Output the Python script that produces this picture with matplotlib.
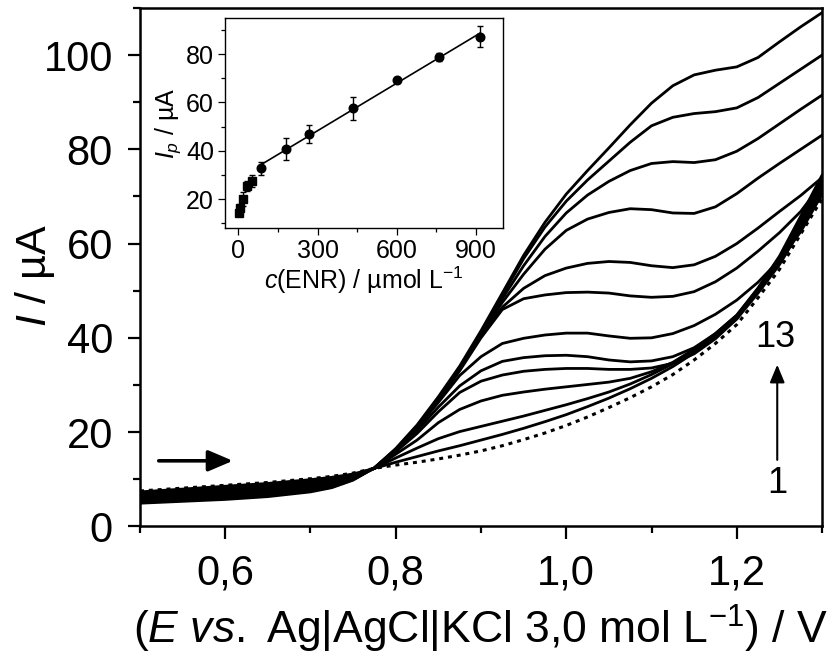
import matplotlib
matplotlib.use("Agg")
import matplotlib.pyplot as plt
import numpy as np
from matplotlib.ticker import FixedLocator, FixedFormatter, MultipleLocator

plt.rcParams['font.family'] = ['Liberation Sans', 'DejaVu Sans']
plt.rcParams['mathtext.fontset'] = 'custom'
plt.rcParams['mathtext.rm'] = 'Liberation Sans'
plt.rcParams['mathtext.it'] = 'Liberation Sans:italic'
plt.rcParams['mathtext.bf'] = 'Liberation Sans:bold'

# Potential grid (V) shared by all voltammograms
potential = [0.500, 0.550, 0.600, 0.650, 0.700, 0.725, 0.750, 0.775,
             0.800, 0.825, 0.850, 0.875, 0.900, 0.925, 0.950, 0.975,
             1.000, 1.025, 1.050, 1.075, 1.100, 1.125, 1.150, 1.175,
             1.200, 1.225, 1.250, 1.275, 1.300]

# Current (uA); scan 1 is the blank, scans 2-13 increasing ENR concentration
scan_01 = [7.5, 8.1, 8.7, 9.3, 10.1, 10.6, 11.3, 12.3,
           13.0, 13.6, 14.3, 15.1, 16.0, 17.1, 18.4, 19.8, 21.4, 23.2, 25.2, 27.3,
           29.6, 32.2, 35.3, 38.8, 42.8, 48.5, 54.5, 62.0, 69.5]
scan_02 = [7.3, 7.9, 8.5, 9.1, 9.9, 10.4, 11.1, 12.3,
           13.6, 14.8, 16.0, 17.1, 18.3, 19.5, 20.8, 22.2, 23.7, 25.4, 27.2, 29.2,
           31.4, 33.9, 36.8, 40.2, 44.0, 49.5, 55.5, 63.0, 70.5]
scan_03 = [7.1, 7.7, 8.2, 8.8, 9.6, 10.1, 10.9, 12.3,
           14.5, 16.6, 18.6, 20.1, 21.2, 22.3, 23.4, 24.6, 25.8, 27.1, 28.5, 30.2,
           32.2, 34.5, 37.3, 40.6, 44.5, 50.0, 56.0, 63.8, 71.5]
scan_04 = [6.9, 7.4, 8.0, 8.6, 9.4, 9.9, 10.8, 12.3,
           15.3, 18.3, 22.0, 24.8, 26.6, 27.8, 28.5, 29.1, 29.6, 30.1, 30.6, 31.4,
           32.8, 34.8, 37.6, 40.9, 44.8, 50.4, 56.5, 64.5, 72.5]
scan_05 = [6.6, 7.1, 7.7, 8.3, 9.1, 9.7, 10.6, 12.3,
           15.8, 19.7, 24.3, 28.4, 30.8, 32.1, 32.9, 33.3, 33.5, 33.5, 33.3, 33.3,
           33.6, 34.6, 36.6, 39.8, 44.0, 50.3, 57.0, 65.0, 73.5]
scan_06 = [6.4, 6.9, 7.4, 8.0, 8.9, 9.5, 10.5, 12.3,
           16.0, 20.3, 25.3, 29.8, 33.0, 35.0, 35.8, 36.2, 36.3, 36.0, 35.3, 34.9,
           35.1, 36.0, 37.9, 40.9, 44.8, 50.6, 57.3, 65.8, 74.5]
scan_07 = [6.2, 6.7, 7.2, 7.8, 8.7, 9.3, 10.4, 12.3,
           16.1, 20.8, 26.3, 32.0, 36.0, 38.8, 39.9, 40.6, 41.0, 41.0, 40.4, 39.9,
           40.0, 40.9, 42.6, 45.0, 48.0, 51.8, 56.5, 62.5, 70.5]
scan_08 = [6.0, 6.5, 7.0, 7.6, 8.4, 9.1, 10.3, 12.3,
           16.1, 20.9, 26.6, 33.0, 40.0, 46.0, 48.3, 49.1, 49.6, 49.7, 49.5, 48.9,
           48.6, 48.8, 49.8, 51.9, 54.8, 58.4, 62.3, 66.8, 72.8]
scan_09 = [5.7, 6.2, 6.7, 7.3, 8.2, 8.9, 10.2, 12.4,
           16.1, 21.0, 26.8, 33.3, 40.5, 46.5, 50.5, 53.2, 54.8, 55.8, 56.2, 56.0,
           55.3, 54.9, 55.5, 57.3, 60.0, 63.3, 66.8, 70.2, 74.0]
scan_10 = [5.5, 6.0, 6.5, 7.1, 8.0, 8.7, 10.1, 12.4,
           16.2, 21.0, 26.9, 33.4, 40.8, 47.5, 53.5, 58.8, 62.8, 65.2, 66.6, 67.4,
           67.2, 66.5, 66.4, 67.8, 70.6, 73.9, 77.0, 80.0, 83.0]
scan_11 = [5.3, 5.8, 6.2, 6.8, 7.7, 8.5, 10.0, 12.4,
           16.3, 21.2, 27.0, 33.5, 41.0, 48.3, 55.3, 61.5, 66.5, 70.3, 73.2, 75.5,
           77.0, 77.4, 77.2, 77.8, 79.6, 82.3, 85.4, 88.5, 91.5]
scan_12 = [5.1, 5.5, 6.0, 6.5, 7.5, 8.3, 9.9, 12.4,
           16.4, 21.3, 27.2, 33.7, 41.2, 49.0, 56.8, 63.5, 69.0, 73.5, 77.5, 81.5,
           85.0, 86.8, 87.6, 88.0, 88.8, 91.0, 94.0, 97.0, 100.0]
scan_13 = [4.9, 5.3, 5.7, 6.3, 7.3, 8.2, 9.8, 12.4,
           16.5, 21.5, 27.5, 34.0, 41.5, 49.5, 57.5, 64.5, 70.5, 75.5, 80.3, 85.2,
           89.8, 93.5, 95.8, 96.8, 97.5, 99.5, 102.8, 106.0, 109.0]

# Calibration data for the inset (umol/L, uA)
conc_low = [2, 7, 17, 35, 53]
ip_low = [14.3, 16.4, 20.0, 25.5, 27.5]
err_low = [1.2, 1.5, 2.8, 2.0, 2.5]
conc_high = [88, 179, 266, 436, 600, 759, 916]
ip_high = [32.7, 40.6, 46.8, 57.6, 69.4, 78.8, 87.3]
err_high = [2.8, 4.6, 3.7, 4.7, 1.2, 1.8, 4.5]

x_ticks = [0.6, 0.8, 1.0, 1.2]
x_tick_labels = ['0,6', '0,8', '1,0', '1,2']
y_ticks = [0, 20, 40, 60, 80, 100]

W, H = 830, 661
fig = plt.figure(figsize=(W / 100, H / 100), dpi=100)
ax = fig.add_axes([140 / W, 1 - 526.3 / H, (822 - 140) / W, (526.3 - 8) / H])

solid_scans = [scan_02, scan_03, scan_04, scan_05, scan_06, scan_07,
               scan_08, scan_09, scan_10, scan_11, scan_12, scan_13]
for s in solid_scans:
    ax.plot(potential, s, color='black', lw=2.0, solid_joinstyle='round')
ax.plot(potential, scan_01, color='black', lw=2.2, linestyle=(0, (1.3, 1.6)))

ax.set_xlim(0.5, 1.3)
ax.set_ylim(0, 110)
ax.xaxis.set_major_locator(FixedLocator(x_ticks))
ax.xaxis.set_major_formatter(FixedFormatter(x_tick_labels))
ax.xaxis.set_minor_locator(FixedLocator([0.5, 0.7, 0.9, 1.1, 1.3]))
ax.yaxis.set_major_locator(FixedLocator(y_ticks))
ax.yaxis.set_minor_locator(MultipleLocator(10))
ax.tick_params(which='both', direction='out', width=1.6, top=False, right=False,
               labelsize=30, pad=10.5)
ax.tick_params(which='major', length=9)
ax.tick_params(which='minor', length=5)
for sp in ax.spines.values():
    sp.set_linewidth(1.8)

ax.set_xlabel(r'($\mathit{E\ vs.}$ Ag|AgCl|KCl 3,0 mol L$^{-1}$) / V', fontsize=32)
ax.set_ylabel(r'$\mathit{I}$ / µA', fontsize=31)
ax.xaxis.set_label_coords(0.5, -0.148)
ax.yaxis.set_label_coords(-0.122, 0.485)

# scan direction arrow
ax.annotate('', xy=(0.609, 13.9), xytext=(0.522, 13.9),
            arrowprops=dict(arrowstyle='-|>,head_length=0.75,head_width=0.32',
                            mutation_scale=20, lw=2.6, color='black',
                            shrinkA=0, shrinkB=0))
# concentration arrow 1 -> 13
ax.annotate('', xy=(1.2475, 34.3), xytext=(1.2475, 14.1),
            arrowprops=dict(arrowstyle='-|>,head_length=0.6,head_width=0.25',
                            mutation_scale=18, lw=1.5, color='black',
                            shrinkA=0, shrinkB=0))
ax.text(1.2455, 40.0, '13', fontsize=26, ha='center', va='center')
ax.text(1.2475, 9.0, '1', fontsize=26, ha='center', va='center')

# inset: calibration curve
ins = fig.add_axes([225 / W, 1 - 228 / H, (502.5 - 225) / W, (228 - 18) / H])
ins.errorbar(conc_low, ip_low, yerr=err_low, fmt='s', ms=5.5, color='black',
             ecolor='black', elinewidth=1.0, capsize=2, capthick=1.0)
ins.errorbar(conc_high, ip_high, yerr=err_high, fmt='o', ms=6.2, color='black',
             ecolor='black', elinewidth=1.0, capsize=2, capthick=1.0)
slope, intercept = np.polyfit(conc_high, ip_high, 1)
fit_x = np.array([conc_high[0], conc_high[-1]])
ins.plot(fit_x, slope * fit_x + intercept, color='black', lw=1.2)
ins.set_xlim(-50, 1000)
ins.set_ylim(8, 95)
ins.xaxis.set_major_locator(FixedLocator([0, 300, 600, 900]))
ins.xaxis.set_minor_locator(FixedLocator([150, 450, 750]))
ins.yaxis.set_major_locator(FixedLocator([20, 40, 60, 80]))
ins.yaxis.set_minor_locator(FixedLocator([10, 30, 50, 70, 90]))
ins.tick_params(which='both', direction='out', width=0.9, top=False, right=False,
                labelsize=18, pad=3)
ins.tick_params(which='major', length=5)
ins.tick_params(which='minor', length=3)
for sp in ins.spines.values():
    sp.set_linewidth(1.0)
ins.set_xlabel(r'$\mathit{c}$(ENR) / µmol L$^{-1}$', fontsize=18, labelpad=1)
ins.set_ylabel(r'$\mathit{I}_{\mathit{p}}$ / µA', fontsize=18, labelpad=2)

fig.savefig('out.png', dpi=100)
